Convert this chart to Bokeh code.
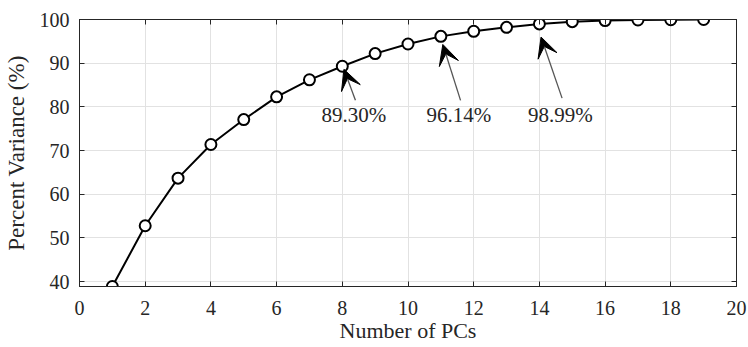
from bokeh.plotting import figure
from bokeh.models import (Range1d, FixedTicker, LinearAxis, CustomJSTickFormatter,
                          Arrow, VeeHead, ColumnDataSource)
from bokeh.core.properties import value
from bokeh.embed import file_html
from bokeh.resources import INLINE

# ---- data ----
num_pcs = list(range(1, 20))
percent_variance = [38.9, 52.8, 63.7, 71.4, 77.1, 82.3, 86.2, 89.30, 92.2,
                    94.4, 96.14, 97.3, 98.2, 98.99, 99.5, 99.75, 99.88, 99.95, 100.0]
x_ticks = list(range(0, 21, 2))
y_ticks = list(range(40, 101, 10))
annotated_pcs = [8, 11, 14]
annotation_labels = ["89.30%", "96.14%", "98.99%"]
x_label = "Number of PCs"
y_label = "Percent Variance (%)"

FONT = "'Liberation Serif', 'Times New Roman', serif"
AXC = "#262626"

x_min, x_max = 0, 20
y_min, y_max = min(percent_variance), 100

p = figure(width=748, height=347, output_backend="svg", toolbar_location=None,
           x_range=Range1d(x_min, x_max), y_range=Range1d(y_min, y_max),
           min_border_left=79, min_border_right=12, min_border_top=19,
           min_border_bottom=61)
p.outline_line_color = AXC
p.background_fill_color = "white"
p.border_fill_color = "white"

for ax in (p.xaxis[0], p.yaxis[0]):
    ax.major_tick_in = 5
    ax.major_tick_out = 0
    ax.minor_tick_in = 0
    ax.minor_tick_out = 0
    ax.axis_line_color = AXC
    ax.major_tick_line_color = AXC
    ax.major_label_text_font = FONT
    ax.major_label_text_font_size = "20px"
    ax.major_label_text_color = AXC
    ax.axis_label_text_font = FONT
    ax.axis_label_text_font_style = "normal"
    ax.axis_label_text_color = AXC

p.xaxis[0].ticker = FixedTicker(ticks=x_ticks)
p.yaxis[0].ticker = FixedTicker(ticks=y_ticks)
p.xaxis[0].axis_label = x_label
p.yaxis[0].axis_label = y_label
p.xaxis[0].axis_label_text_font_size = "22px"
p.yaxis[0].axis_label_text_font_size = "23px"
p.xaxis[0].major_label_standoff = 14
p.xaxis[0].axis_label_standoff = 0
p.yaxis[0].major_label_standoff = 10
p.yaxis[0].axis_label_standoff = 8

blank = CustomJSTickFormatter(code="return ''")
top = LinearAxis(ticker=FixedTicker(ticks=x_ticks), formatter=blank,
                 major_tick_in=5, major_tick_out=0, minor_tick_in=0, minor_tick_out=0,
                 major_label_standoff=0, axis_line_color=AXC, major_tick_line_color=AXC)
right = LinearAxis(ticker=FixedTicker(ticks=y_ticks), formatter=blank,
                   major_tick_in=5, major_tick_out=0, minor_tick_in=0, minor_tick_out=0,
                   major_label_standoff=0, axis_line_color=AXC, major_tick_line_color=AXC)
p.add_layout(top, "above")
p.add_layout(right, "right")

p.xgrid.ticker = FixedTicker(ticks=x_ticks)
p.ygrid.ticker = FixedTicker(ticks=y_ticks)
p.grid.grid_line_color = "#e2e2e2"
p.grid.grid_line_width = 1

src = ColumnDataSource(data=dict(x=num_pcs, y=percent_variance))
p.line("x", "y", source=src, line_color="black", line_width=2)
p.scatter("x", "y", source=src, marker="circle", size=11, line_color="black",
          line_width=2, fill_color="white")

# annotation layout offsets (data units relative to the annotated point)
tail_dx = [0.40, 0.60, 0.69]
tip_dx = [0.05, 0.06, 0.05]
tip_dy = [0.7, 1.85, 3.0]
tail_y = [81.5, 81.5, 82.0]
text_y = 78.1

tx, ty, tt = [], [], []
for i, pc in enumerate(annotated_pcs):
    v = percent_variance[pc - 1]
    p.add_layout(Arrow(end=VeeHead(size=20, fill_color="black", line_color="black",
                                   line_width=1),
                       x_start=pc + tail_dx[i], y_start=tail_y[i],
                       x_end=pc + tip_dx[i], y_end=v - tip_dy[i],
                       line_color="#555555", line_width=1.3))
    tx.append(pc + tail_dx[i] - 0.05)
    ty.append(text_y)
    tt.append(annotation_labels[i])

p.text(x=tx, y=ty, text=tt, text_font=value(FONT), text_font_size="21px",
       text_align="center", text_baseline="middle", text_color="#262626")

open("out.html", "w").write(file_html(p, INLINE))
